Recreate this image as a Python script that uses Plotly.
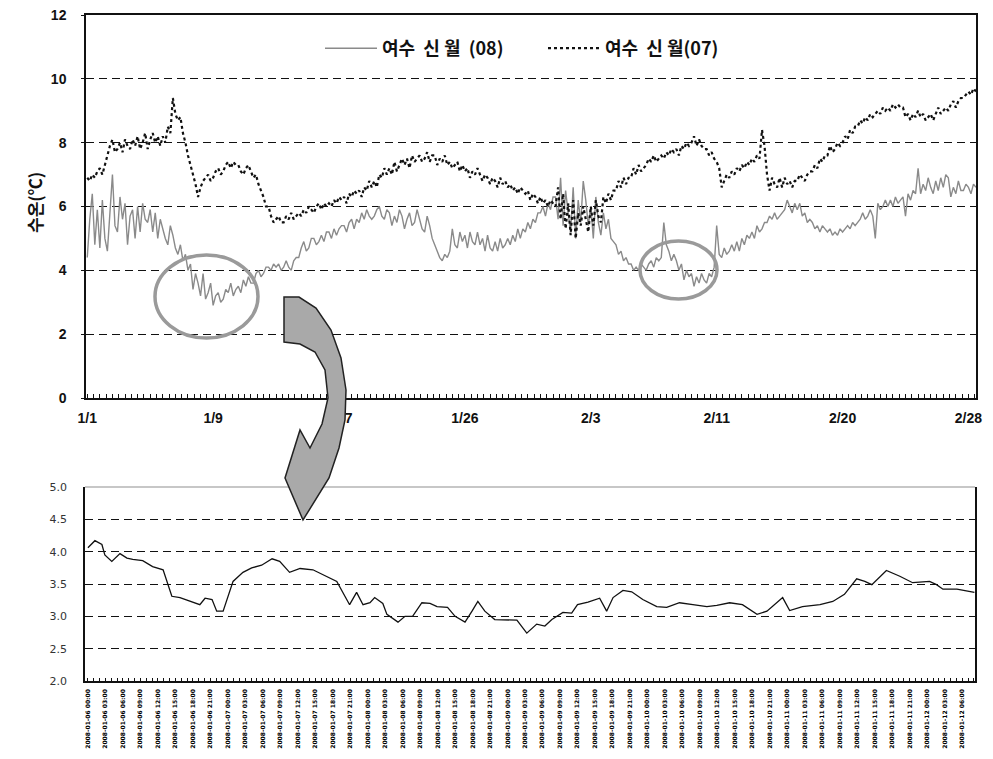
import plotly.graph_objects as go
from datetime import datetime, timedelta

W, H = 993, 759

# ---------------- data: top chart (sampled every 4 h from 2008-01-01 00:00) ----------------
step_hours = 4
d08 = [
    4.4, 5.6, 6.4, 4.8, 5.9, 4.7,   6.2, 5.0, 4.6, 5.8, 7.0, 5.4,
    5.2, 6.3, 5.6, 6.1, 4.8, 5.7,   5.9, 5.0, 6.0, 5.2, 6.1, 5.6,
    5.5, 5.9, 5.2, 5.8, 5.0, 5.6,   5.3, 5.0, 4.8, 5.4, 5.1, 4.7,
    4.5, 4.8, 4.3, 4.5, 4.0, 4.2,   3.4, 3.9, 3.6, 3.2, 3.9, 3.1,
    3.3, 3.6, 2.9, 3.2, 3.3, 3.0,   3.1, 3.4, 3.3, 3.6, 3.2, 3.4,
    3.5, 3.3, 3.7, 3.5, 3.8, 3.6,   3.6, 3.9, 4.0, 3.8, 3.9, 4.1,
    4.1, 4.0, 4.2, 4.1, 4.2, 4.0,   4.1, 4.3, 4.1, 4.0, 4.3, 4.4,
    4.4, 4.7, 4.9, 4.6, 4.7, 5.0,   5.0, 4.8, 4.9, 5.1, 4.9, 5.2,
    5.2, 5.0, 5.3, 5.1, 5.3, 5.4,   5.4, 5.2, 5.5, 5.6, 5.3, 5.6,
    5.5, 5.8, 5.6, 5.9, 5.7, 5.6,   5.7, 5.9, 6.0, 5.7, 5.6, 5.9,
    5.8, 5.4, 5.7, 5.5, 5.9, 5.7,   5.3, 5.6, 5.8, 5.4, 5.5, 5.9,
    5.6, 5.3, 5.2, 5.7, 5.4, 5.0,   4.8, 4.6, 4.4, 4.3, 4.5, 4.4,
    4.6, 5.3, 4.8, 4.7, 5.2, 4.9,   5.1, 4.7, 5.2, 4.9, 4.8, 5.2,
    4.8, 5.0, 4.6, 5.1, 4.7, 4.6,   4.9, 4.6, 5.0, 4.7, 4.8, 5.0,
    4.8, 5.1, 4.9, 5.3, 5.0, 5.3,   5.2, 5.5, 5.3, 5.6, 5.5, 5.8,
    5.8, 6.0, 5.7, 6.1, 5.9, 6.3,   6.3, 5.6, 6.9, 5.4, 6.5, 5.8,
    5.2, 6.6, 5.0, 6.2, 5.5, 6.8,   6.2, 5.4, 6.0, 5.0, 6.3, 5.5,
    5.1, 5.8, 5.3, 5.6, 5.0, 4.9,   4.8, 4.5, 4.6, 4.3, 4.4, 4.2,
    4.2, 4.0, 4.1, 4.0, 4.2, 4.1,   4.0, 4.2, 4.3, 4.1, 4.4, 4.3,
    4.4, 5.5, 4.8, 4.6, 4.3, 4.5,   4.3, 4.0, 4.2, 3.7, 4.0, 3.8,
    3.9, 3.5, 3.8, 3.6, 3.9, 3.7,   3.6, 3.9, 3.8, 4.1, 5.4, 4.5,
    4.4, 4.7, 4.5, 4.6, 4.8, 4.6,   4.9, 4.6, 5.0, 4.8, 5.1, 5.0,
    5.2, 5.0, 5.4, 5.2, 5.3, 5.5,   5.5, 5.7, 5.6, 5.8, 5.6, 5.7,
    5.8, 5.9, 6.2, 6.0, 5.8, 6.1,   5.9, 6.1, 5.7, 5.8, 5.5, 5.6,
    5.5, 5.3, 5.4, 5.2, 5.4, 5.3,   5.2, 5.3, 5.1, 5.2, 5.1, 5.3,
    5.2, 5.3, 5.4, 5.3, 5.5, 5.4,   5.5, 5.6, 5.8, 5.6, 5.7, 5.9,
    5.7, 5.0, 6.1, 5.9, 6.0, 6.2,   6.0, 6.2, 6.0, 6.3, 6.1, 6.2,
    6.3, 5.7, 6.4, 6.2, 6.5, 6.4,   7.2, 6.4, 6.7, 6.5, 6.9, 6.6,
    6.4, 6.8, 6.5, 6.9, 6.6, 7.0,   6.9, 6.3, 6.6, 6.4, 6.8, 6.5,
    6.5, 6.7, 6.6, 6.4, 6.7, 6.6,
]
d07 = [
    6.9, 6.8, 7.0, 6.9, 7.1, 7.2,   7.0, 7.3, 7.6, 7.9, 8.1, 7.7,
    7.8, 8.0, 7.7, 8.1, 7.9, 7.8,   8.1, 7.9, 8.2, 7.8, 8.0, 8.3,
    7.8, 8.1, 8.3, 8.0, 8.2, 7.9,   8.2, 8.0, 8.5, 8.3, 9.4, 8.9,
    8.7, 8.8, 8.3, 8.0, 7.6, 7.3,   7.0, 6.7, 6.3, 6.6, 6.8, 6.9,
    7.0, 6.8, 6.9, 7.1, 7.2, 7.0,   7.1, 7.3, 7.4, 7.2, 7.4, 7.3,
    7.3, 7.1, 7.0, 7.2, 7.3, 7.1,   6.9, 7.0, 6.7, 6.5, 6.3, 6.0,
    6.0, 5.7, 5.5, 5.6, 5.7, 5.5,   5.5, 5.7, 5.6, 5.8, 5.6, 5.7,
    5.8, 5.7, 5.9, 5.8, 6.0, 5.9,   5.8, 6.0, 6.1, 5.9, 6.1, 6.0,
    6.1, 6.0, 6.2, 6.1, 6.3, 6.2,   6.3, 6.1, 6.4, 6.3, 6.5, 6.4,
    6.5, 6.3, 6.6, 6.5, 6.8, 6.6,   6.8, 6.6, 7.0, 6.9, 7.2, 7.0,
    7.2, 7.0, 7.4, 7.1, 7.3, 7.5,   7.3, 7.5, 7.2, 7.6, 7.4, 7.5,
    7.6, 7.4, 7.5, 7.7, 7.4, 7.6,   7.6, 7.3, 7.5, 7.4, 7.6, 7.3,
    7.4, 7.2, 7.3, 7.4, 7.1, 7.3,   7.1, 7.2, 6.9, 7.1, 7.0, 7.2,
    7.0, 6.8, 7.0, 6.9, 6.7, 6.9,   6.8, 6.6, 6.9, 6.7, 6.8, 6.6,
    6.7, 6.5, 6.6, 6.4, 6.6, 6.5,   6.4, 6.5, 6.2, 6.4, 6.3, 6.1,
    6.3, 6.1, 6.2, 6.0, 6.2, 6.1,   6.0, 6.6, 5.6, 6.4, 5.3, 6.1,
    5.1, 6.2, 5.0, 5.8, 5.4, 6.0,   5.6, 5.2, 6.0, 5.4, 6.2, 5.7,
    5.5, 6.3, 6.1, 6.4, 6.2, 6.5,   6.5, 6.8, 6.6, 6.9, 6.7, 6.9,
    6.9, 7.2, 7.0, 7.3, 7.1, 7.2,   7.3, 7.5, 7.4, 7.6, 7.4, 7.5,
    7.6, 7.5, 7.7, 7.6, 7.8, 7.7,   7.8, 7.6, 7.9, 7.8, 8.0, 7.9,
    8.0, 8.2, 7.9, 8.1, 7.9, 7.8,   7.8, 7.6, 7.7, 7.5, 7.4, 7.2,
    6.6, 6.8, 7.0, 6.9, 7.1, 7.0,   7.2, 7.1, 7.3, 7.2, 7.4, 7.3,
    7.5, 7.4, 7.6, 7.5, 8.4, 7.9,   7.0, 6.5, 6.9, 6.7, 6.6, 6.9,
    6.6, 6.9, 6.7, 6.8, 6.6, 6.8,   6.8, 7.0, 6.9, 6.8, 7.0, 7.1,
    7.1, 7.3, 7.2, 7.5, 7.4, 7.6,   7.6, 7.9, 7.7, 7.8, 8.0, 7.9,
    8.0, 8.2, 8.1, 8.4, 8.3, 8.5,   8.5, 8.7, 8.6, 8.8, 8.7, 8.9,
    8.8, 8.9, 9.0, 8.9, 9.1, 9.0,   9.1, 9.0, 9.2, 9.1, 9.2, 9.1,
    9.1, 8.8, 8.9, 8.7, 8.9, 8.8,   9.0, 8.8, 8.9, 8.7, 8.8, 8.9,
    8.7, 8.9, 9.1, 8.9, 9.0, 9.1,   9.0, 9.2, 9.3, 9.1, 9.3, 9.4,
    9.4, 9.5, 9.6, 9.5, 9.7, 9.6,
]
top_hours = [i * step_hours for i in range(len(d08))]
top_tick_hours = [0, 200, 400, 600, 800, 1000, 1200, 1400]
top_tick_labels = ["1/1", "1/9", "1/17", "1/26", "2/3", "2/11", "2/20", "2/28"]
top_y_ticks = [0, 2, 4, 6, 8, 10, 12]

# ---------------- data: lower (zoomed) chart ----------------
zoom_hours = [
    0, 1.2, 2.4, 2.9, 4.1, 5.5, 6.7, 7.7, 9.4, 11.1, 12.9, 14.4, 15.8, 18.0, 19.2,
    20.1, 21.3, 22.1, 23.2, 24.9, 26.6, 28.1, 29.8, 31.6, 32.9, 34.6, 36.4, 38.6,
    41.0, 42.7, 44.9, 46.1, 47.2, 48.4, 49.2, 50.6, 51.3, 53.2, 54.4, 55.7, 57.3,
    58.7, 59.9, 61.7, 63.0, 64.7, 65.9, 66.9, 68.1, 69.8, 73.6, 75.3, 77.0, 78.4,
    79.6, 81.5, 83.0, 84.0, 85.8, 87.8, 89.0, 90.1, 91.8, 93.3, 95.2, 97.6, 99.3,
    101.5, 103.8, 106.2, 107.9, 110.1, 112.3, 114.8, 116.5, 117.8, 119.2, 120.4,
    122.6, 125.6, 127.8, 129.8, 131.9, 133.3, 134.5, 137.0, 139.3, 141.5, 144.4,
    145.6, 146.7, 149.1, 152.1,
]
zoom_vals = [
    4.06, 4.17, 4.11, 3.95, 3.85, 3.97, 3.90, 3.88, 3.86, 3.77, 3.72, 3.31, 3.29,
    3.22, 3.18, 3.28, 3.26, 3.08, 3.08, 3.54, 3.68, 3.75, 3.79, 3.89, 3.85, 3.68,
    3.74, 3.72, 3.62, 3.54, 3.18, 3.37, 3.18, 3.21, 3.29, 3.20, 3.03, 2.91, 3.00,
    3.00, 3.21, 3.20, 3.15, 3.14, 3.00, 2.91, 3.08, 3.23, 3.08, 2.95, 2.94, 2.74,
    2.88, 2.85, 2.95, 3.06, 3.05, 3.18, 3.22, 3.28, 3.08, 3.29, 3.40, 3.38, 3.26,
    3.15, 3.14, 3.21, 3.18, 3.15, 3.17, 3.21, 3.18, 3.03, 3.08, 3.18, 3.29, 3.09,
    3.15, 3.18, 3.23, 3.34, 3.58, 3.54, 3.49, 3.71, 3.62, 3.52, 3.54, 3.49, 3.42,
    3.42, 3.37,
]
zoom_start = datetime(2008, 1, 6, 0, 0)
zoom_tick_hours = list(range(0, 151, 3))
zoom_tick_labels = [(zoom_start + timedelta(hours=h)).strftime("%Y-%m-%d %H:%M")
                    for h in zoom_tick_hours]
zoom_y_ticks = [2.0, 2.5, 3.0, 3.5, 4.0, 4.5, 5.0]

NB = "\u00a0"
series_names = [f"<b>여수{NB}{NB}신{NB}월{NB}{NB}(08)</b>",
                f"<b>여수{NB}{NB}신{NB}월(07)</b>"]
y_title = "<b>수온(℃)</b>"

# ---------------- figure ----------------
def px_x(x):
    return x / W

def px_y(y):
    return 1 - y / H

fig = go.Figure()
fig.add_trace(go.Scatter(x=top_hours, y=d08, mode="lines", name=series_names[0],
                         line=dict(color="#8a8a8a", width=1.4), xaxis="x", yaxis="y"))
fig.add_trace(go.Scatter(x=top_hours, y=d07, mode="lines", name=series_names[1],
                         line=dict(color="#111111", width=2.2, dash="dot"), xaxis="x", yaxis="y"))
fig.add_trace(go.Scatter(x=zoom_hours, y=zoom_vals, mode="lines", showlegend=False,
                         line=dict(color="#111111", width=1.3), xaxis="x2", yaxis="y2"))

tick_font = dict(family="Liberation Sans", size=14, color="#111", weight="bold")
grid = dict(showgrid=True, gridcolor="#111", gridwidth=1, griddash="8px,5px")

fig.update_layout(
    width=W, height=H,
    margin=dict(l=0, r=0, t=0, b=0, autoexpand=False),
    paper_bgcolor="white", plot_bgcolor="white",
    showlegend=True,
    legend=dict(orientation="h", x=px_x(320), y=px_y(30), xanchor="left", yanchor="top",
                font=dict(family="Noto Sans CJK KR", size=18, color="#111"),
                bgcolor="rgba(0,0,0,0)", itemwidth=52,
                entrywidth=156, entrywidthmode="pixels"),
    xaxis=dict(domain=[px_x(86), px_x(976)], range=[-2, 1412],
               tickmode="array", tickvals=top_tick_hours, ticktext=top_tick_labels,
               tickfont=tick_font, ticks="", showgrid=False, zeroline=False,
               showline=True, linecolor="#111", linewidth=2, mirror=True,
               ticklabelstandoff=6,
               minor=dict(tickmode="linear", tick0=0, dtick=10, ticks="inside",
                          ticklen=4, tickcolor="#111", tickwidth=1, showgrid=False)),
    yaxis=dict(domain=[px_y(398), px_y(15)], range=[0, 12], tickmode="array",
               tickvals=top_y_ticks, tickfont=tick_font, ticks="outside", ticklen=3,
               tickcolor="#111", zeroline=False, showline=True, linecolor="#111",
               linewidth=1.5, mirror=True, ticklabelstandoff=12, **grid),
    xaxis2=dict(domain=[px_x(85), px_x(975)], range=[-0.5, 152.2], anchor="y2",
                tickmode="array", tickvals=zoom_tick_hours, ticktext=zoom_tick_labels,
                tickangle=-90,
                tickfont=dict(family="DejaVu Sans", size=6, color="#000", weight="bold"),
                ticks="", showgrid=False, zeroline=False, showline=True,
                linecolor="#111", linewidth=1.5, ticklabelstandoff=4,
                minor=dict(tickmode="linear", tick0=0, dtick=1, ticks="inside",
                           ticklen=3, tickcolor="#111", tickwidth=1, showgrid=False)),
    yaxis2=dict(domain=[px_y(681), px_y(487)], range=[2.0, 5.0], anchor="x2",
                tickmode="array", tickvals=zoom_y_ticks, tickformat=".1f",
                tickfont=dict(family="DejaVu Sans", size=11, color="#333"),
                ticks="", zeroline=False, showline=True, linecolor="#111",
                linewidth=1.5, mirror=True, ticklabelstandoff=14, **grid),
)

# y-axis title
fig.add_annotation(text=y_title, xref="paper", yref="paper", x=px_x(35), y=px_y(203),
                   xanchor="center", yanchor="middle", showarrow=False, textangle=-90,
                   font=dict(family="Noto Sans CJK KR", size=17, color="#111"))

# light top border of the lower chart
fig.add_shape(type="line", xref="paper", yref="paper", x0=px_x(85), x1=px_x(975),
              y0=px_y(487), y1=px_y(487), line=dict(color="#b5b5b5", width=1.5))

# highlight ellipses
for (x0, y0, x1, y1) in [(155, 255, 258, 338), (640, 241, 717, 299)]:
    fig.add_shape(type="circle", xref="paper", yref="paper",
                  x0=px_x(x0), x1=px_x(x1), y0=px_y(y1), y1=px_y(y0),
                  line=dict(color="#9a9a9a", width=3.5))

# curved arrow linking the two charts
arrow_px = [(284, 297), (299, 297), (316, 308), (331, 330), (341, 358), (346, 390),
            (345, 420), (339, 448), (329, 478), (303, 520), (285, 478), (300, 430),
            (310, 448), (322, 424), (328, 398), (325, 370), (315, 352), (300, 344),
            (284, 342)]
path = "M " + " L ".join(f"{px_x(x):.5f},{px_y(y):.5f}" for x, y in arrow_px) + " Z"
fig.add_shape(type="path", xref="paper", yref="paper", path=path,
              fillcolor="#a9a9a9", line=dict(color="#222", width=1.5), layer="above")

fig.write_html("out.html", config={"displayModeBar": False},
               post_script="document.body.style.margin='0px';")
